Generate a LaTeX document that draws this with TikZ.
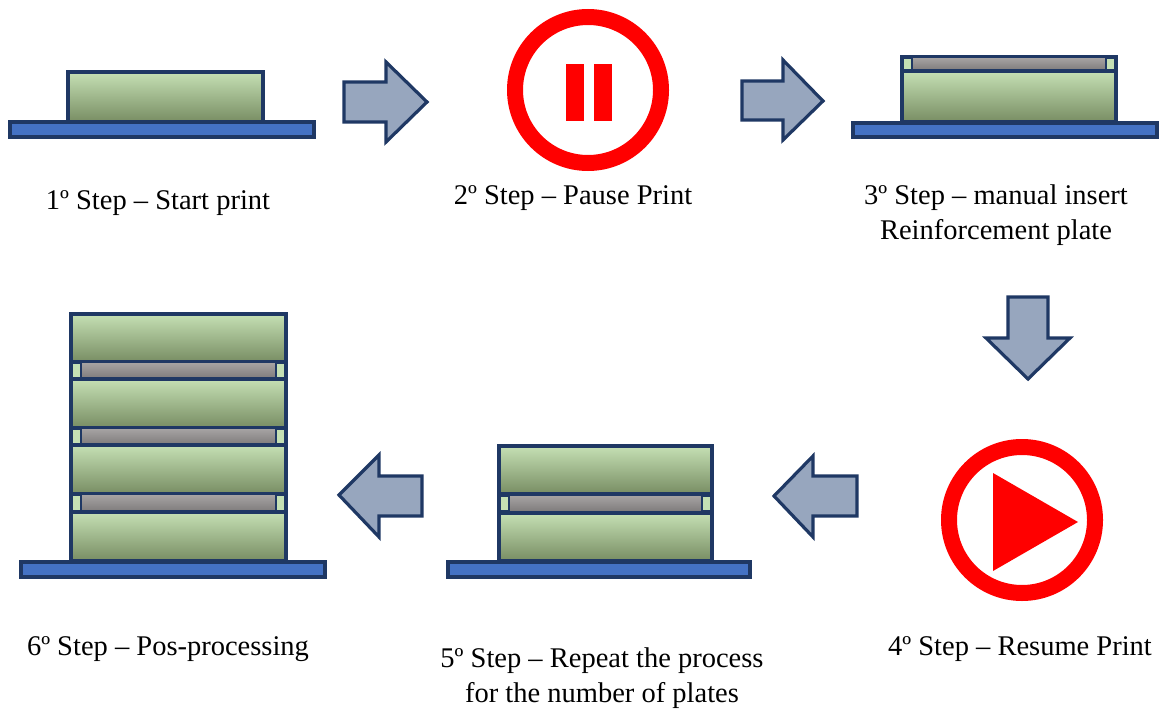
\documentclass[tikz,border=0pt]{standalone}
\usepackage{fontspec}
\setmainfont{Liberation Serif}
\definecolor{navy}{HTML}{1F3864}
\definecolor{plateblue}{HTML}{4472C4}
\definecolor{greentop}{HTML}{C5E0B4}
\definecolor{greenbot}{HTML}{788D63}
\definecolor{graytop}{HTML}{A8A5A5}
\definecolor{graybot}{HTML}{7D7A7A}
\definecolor{arrowfill}{HTML}{97A6BE}
\definecolor{signred}{HTML}{FF0000}

% printed part: green body
\newcommand{\partbody}[4]{\draw[part] (#1,#3) rectangle (#2,#4);}
% reinforcement layer: light green spacers at both ends, grey plate between
\newcommand{\reinforce}[4]{%
  \draw[spacer] (#1,#3) rectangle (#2,#4);
  \draw[insert] ({#1+10},#3) rectangle ({#2-10},#4);}
% build platform
\newcommand{\bed}[4]{\draw[plate] (#1,#3) rectangle (#2,#4);}

\begin{document}
\begin{tikzpicture}[x=1pt,y=-1pt,
  plate/.style={draw=navy, line width=3.4pt, fill=plateblue},
  part/.style={draw=navy, line width=3.4pt, top color=greentop, bottom color=greenbot},
  spacer/.style={draw=navy, line width=3.4pt, fill=greentop},
  insert/.style={draw=navy, line width=2.8pt, top color=graytop, bottom color=graybot},
  blockarrow/.style={draw=navy, line width=3.2pt, fill=arrowfill, line join=miter},
  ring/.style={draw=signred, line width=16pt},
  glyph/.style={fill=signred},
  steplabel/.style={font=\fontsize{28.5}{35}\selectfont, align=center, inner sep=0pt}]
\useasboundingbox (0,0) rectangle (1161,709);

% ---------- 1st step: start print ----------
\partbody{68}{263}{72}{122}
\bed{10}{314}{122}{137}
\node[steplabel] (s1) at (158,203) {1º Step -- Start print};

% arrow 1 -> 2
\draw[blockarrow] (344,82) -- (386,82) -- (386,62) -- (427,102) -- (386,142) -- (386,122) -- (344,122) -- cycle;

% ---------- 2nd step: pause ----------
\draw[ring] (588,90) circle (73);
\fill[glyph] (566,64) rectangle (584,121);
\fill[glyph] (594,64) rectangle (612,121);
\node[steplabel] (s2) at (573,198) {2º Step -- Pause Print};

% arrow 2 -> 3
\draw[blockarrow] (742,81) -- (783,81) -- (783,60) -- (823,101) -- (783,140) -- (783,120) -- (742,120) -- cycle;

% ---------- 3rd step: insert plate ----------
\reinforce{902}{1116}{57}{71}
\partbody{902}{1116}{71}{122}
\bed{853}{1157}{123}{137}
\node[steplabel] (s3) at (996,215) {3º Step -- manual insert\\Reinforcement plate};

% arrow 3 -> 4
\draw[blockarrow] (1008,297) -- (1048,297) -- (1048,338) -- (1070,338) -- (1028,379) -- (986,338) -- (1008,338) -- cycle;

% ---------- 4th step: resume ----------
\draw[ring] (1022,520) circle (73);
\fill[glyph] (993,473) -- (1078,522) -- (993,571) -- cycle;
\node[steplabel] (s4) at (1020,649) {4º Step -- Resume Print};

% arrow 4 -> 5
\draw[blockarrow] (857,476) -- (813,476) -- (813,456) -- (774,496) -- (813,537) -- (813,516) -- (857,516) -- cycle;

% ---------- 5th step: repeat ----------
\partbody{499}{712}{446}{494}
\reinforce{499}{712}{495}{512}
\partbody{499}{712}{513}{561}
\bed{448}{750}{562}{577}
\node[steplabel] (s5) at (602,678) {5º Step -- Repeat the process\\for the number of plates};

% arrow 5 -> 6
\draw[blockarrow] (422,476) -- (379,476) -- (379,455) -- (339,495) -- (379,537) -- (379,516) -- (422,516) -- cycle;

% ---------- 6th step: post-processing ----------
\partbody{71}{286}{314}{362}
\reinforce{71}{286}{362}{379}
\partbody{71}{286}{379}{428}
\reinforce{71}{286}{428}{445}
\partbody{71}{286}{445}{494}
\reinforce{71}{286}{494}{512}
\partbody{71}{286}{512}{561}
\bed{21}{325}{562}{577}
\node[steplabel] (s6) at (168,649) {6º Step -- Pos-processing};
\end{tikzpicture}
\end{document}
